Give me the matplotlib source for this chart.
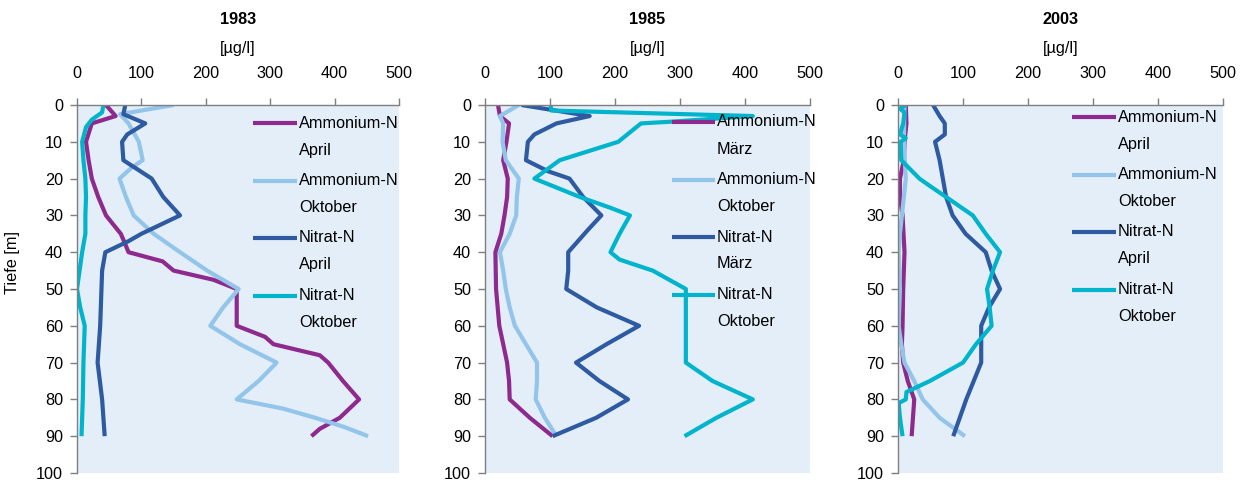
import matplotlib
matplotlib.use("Agg")
import matplotlib.pyplot as plt
from matplotlib import transforms

plt.rcParams["font.family"] = ["Liberation Sans", "DejaVu Sans"]

# ---- data: concentration [µg/l] against depth [m] ----
years = ["1983", "1985", "2003"]
unit_label = "[µg/l]"
depth_label = "Tiefe [m]"
x_ticks = [0, 100, 200, 300, 400, 500]
y_ticks = [0, 10, 20, 30, 40, 50, 60, 70, 80, 90, 100]

labels_83 = ["Ammonium-N\nApril", "Ammonium-N\nOktober", "Nitrat-N\nApril", "Nitrat-N\nOktober"]
labels_85 = ["Ammonium-N\nMärz", "Ammonium-N\nOktober", "Nitrat-N\nMärz", "Nitrat-N\nOktober"]
labels_03 = ["Ammonium-N\nApril", "Ammonium-N\nOktober", "Nitrat-N\nApril", "Nitrat-N\nOktober"]

# 1983
am_apr_83_depth = [0, 3, 5, 10, 15, 20, 25, 30, 35, 37, 40, 42.5, 45, 47.5, 50, 55, 60, 63, 65, 68, 70, 75, 80, 85, 88, 90]
am_apr_83 = [45, 60, 23, 14, 18, 23, 33, 45, 68, 73, 80, 133, 150, 212, 248, 248, 248, 292, 305, 377, 390, 413, 438, 408, 377, 364]
am_oct_83_depth = [0, 2.5, 5, 10, 15, 17, 20, 25, 30, 35, 40, 45, 50, 55, 60, 65, 70, 75, 80, 82.5, 85, 87.5, 90]
am_oct_83 = [150, 67, 80, 96, 102, 85, 66, 76, 88, 119, 160, 202, 251, 227, 207, 253, 310, 282, 248, 320, 370, 415, 452]
nit_apr_83_depth = [0, 2.5, 5, 8, 10, 15, 20, 25, 30, 35, 37, 40, 45, 50, 60, 70, 80, 90]
nit_apr_83 = [75, 72, 106, 78, 70, 72, 116, 134, 160, 100, 80, 44, 39, 38, 36, 32, 39, 43]
nit_oct_83_depth = [0, 2, 4, 6, 10, 15, 20, 25, 30, 35, 40, 45, 50, 55, 60, 70, 80, 90]
nit_oct_83 = [41, 39, 23, 14, 8, 10, 13, 14, 13, 13, 8, 4, 0, 5, 12, 10, 9, 7]

# 1985
am_mar_85_depth = [0, 3, 5, 10, 15, 20, 25, 30, 35, 40, 50, 60, 70, 75, 80, 85, 90]
am_mar_85 = [20, 23, 37, 33, 28, 35, 34, 30, 25, 16, 17, 22, 34, 37, 38, 69, 104]
am_oct_85_depth = [0, 3, 5, 10, 15, 20, 25, 30, 35, 40, 45, 50, 55, 60, 65, 70, 75, 80, 85, 90]
am_oct_85 = [52, 23, 28, 27, 32, 52, 49, 48, 38, 23, 28, 32, 38, 46, 63, 80, 80, 78, 92, 110]
nit_mar_85_depth = [0, 3, 5, 8, 10, 15, 18, 20, 25, 30, 34, 40, 45, 50, 55, 60, 65, 70, 75, 80, 85, 90]
nit_mar_85 = [56, 161, 110, 76, 66, 63, 97, 130, 151, 179, 158, 128, 128, 125, 172, 237, 187, 140, 176, 220, 171, 104]
nit_oct_85_depth = [0, 1.5, 3, 4.5, 5, 10, 15, 20, 25, 28, 30, 35, 40, 42, 45, 50, 60, 70, 75, 80, 85, 90]
nit_oct_85 = [101, 102, 412, 290, 240, 205, 115, 76, 146, 194, 223, 207, 193, 207, 258, 309, 309, 309, 350, 412, 356, 307]

# 2003
am_apr_03_depth = [0, 5, 10, 15, 20, 25, 30, 40, 50, 60, 65, 70, 75, 80, 85, 90]
am_apr_03 = [12, 13, 10, 9, 3, 3, 7, 10, 8, 7, 6, 8, 15, 25, 23, 21]
am_oct_03_depth = [0, 10, 20, 30, 35, 40, 50, 60, 65, 70, 75, 80, 85, 90]
am_oct_03 = [10, 9, 12, 6, 3, 1, 3, 1, 5, 10, 25, 38, 64, 103]
nit_apr_03_depth = [0, 3, 5, 8, 10, 15, 20, 25, 30, 35, 40, 45, 50, 55, 60, 70, 80, 90]
nit_apr_03 = [54, 64, 72, 72, 57, 64, 69, 74, 84, 104, 135, 144, 157, 140, 128, 128, 105, 85]
nit_oct_03_depth = [0, 1, 2, 5, 8, 9, 10, 15, 20, 22, 25, 30, 35, 40, 45, 50, 55, 60, 65, 70, 75, 78, 80, 81, 85, 90]
nit_oct_03 = [12, 3, 10, 8, 3, 12, 4, 5, 33, 49, 74, 115, 135, 157, 146, 137, 141, 144, 120, 100, 49, 13, 12, 1, 3, 7]

# ---- styling ----
colors = ["#8E2A8E", "#93C4E9", "#2E5AA2", "#00B4CC"]
bg = "#E3EEF9"
spine_col = "#7F7F7F"
fs = 11.7
lw = 3.0

panels = [
    dict(year=years[0], labels=labels_83,
         series=[(am_apr_83, am_apr_83_depth), (am_oct_83, am_oct_83_depth),
                 (nit_apr_83, nit_apr_83_depth), (nit_oct_83, nit_oct_83_depth)],
         rect=[77, 105, 322, 368], leg=(253, 297, 123)),
    dict(year=years[1], labels=labels_85,
         series=[(am_mar_85, am_mar_85_depth), (am_oct_85, am_oct_85_depth),
                 (nit_mar_85, nit_mar_85_depth), (nit_oct_85, nit_oct_85_depth)],
         rect=[485, 105, 325, 368], leg=(672, 715, 122)),
    dict(year=years[2], labels=labels_03,
         series=[(am_apr_03, am_apr_03_depth), (am_oct_03, am_oct_03_depth),
                 (nit_apr_03, nit_apr_03_depth), (nit_oct_03, nit_oct_03_depth)],
         rect=[898, 105, 325, 368], leg=(1072, 1116, 117)),
]

W, H = 1247, 484
fig = plt.figure(figsize=(W / 100, H / 100), dpi=100)

for p in panels:
    x0, y0, w, h = p["rect"]
    ax = fig.add_axes([x0 / W, 1 - (y0 + h) / H, w / W, h / H])
    ax.set_facecolor(bg)
    for (vals, dep), c in zip(p["series"], colors):
        ax.plot(vals, dep, color=c, lw=lw, solid_joinstyle="round", solid_capstyle="butt")
    ax.set_xlim(0, 500)
    ax.set_ylim(100, 0)
    ax.set_xticks(x_ticks)
    ax.set_yticks(y_ticks)
    ax.xaxis.tick_top()
    ax.tick_params(axis="x", direction="out", length=5, width=1, color=spine_col,
                   labelsize=fs, pad=12)
    ax.tick_params(axis="y", direction="out", length=5, width=1, color=spine_col,
                   labelsize=fs, pad=5)
    for s in ["right", "bottom"]:
        ax.spines[s].set_visible(False)
    for s in ["top", "left"]:
        ax.spines[s].set_color(spine_col)
        ax.spines[s].set_linewidth(1)

    # titles above the axis
    tr = transforms.blended_transform_factory(ax.transAxes, fig.transFigure)
    ax.text(0.5, 1 - 20 / H, p["year"], transform=tr, ha="center", va="center",
            fontsize=fs, fontweight="bold")
    ax.text(0.5, 1 - 48 / H, unit_label, transform=tr, ha="center", va="center",
            fontsize=fs)

    # legend: handle aligned with the first line of each two-line label
    lx0, lx1, ly = p["leg"]
    for i, (lab, c) in enumerate(zip(p["labels"], colors)):
        yy = ly + i * 57.5
        first, second = lab.split("\n")
        fig.add_artist(plt.Line2D([lx0 / W, lx1 / W], [1 - yy / H, 1 - yy / H],
                                  color=c, lw=3.0, transform=fig.transFigure,
                                  solid_capstyle="butt"))
        fig.text((lx1 + 2) / W, 1 - yy / H, first, ha="left", va="center", fontsize=fs)
        fig.text((lx1 + 2) / W, 1 - (yy + 27) / H, second, ha="left", va="center", fontsize=fs)

fig.text(13 / W, 1 - 262 / H, depth_label, rotation=90, ha="center", va="center", fontsize=fs)

fig.savefig("out.png", dpi=100)
